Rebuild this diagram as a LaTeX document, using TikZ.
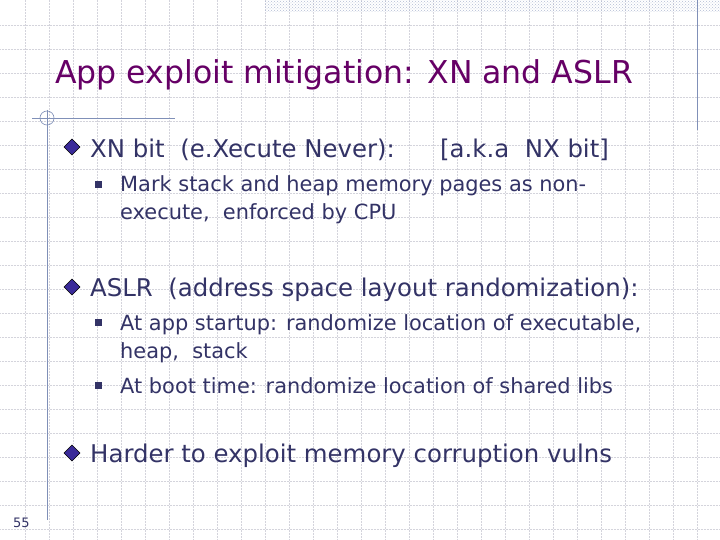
\documentclass[tikz,border=0pt]{standalone}
\usepackage{fontspec}
\setmainfont{DejaVu Sans}
\usetikzlibrary{patterns}
\definecolor{txt}{HTML}{333366}
\definecolor{ttl}{HTML}{660066}
\definecolor{gridc}{HTML}{D4D4DC}
\definecolor{rule}{HTML}{8090B8}
\definecolor{bul}{HTML}{3A2A99}
\tikzset{
 lvl1/.style={anchor=base west,inner sep=0,text=txt,font=\fontsize{24.4}{28}\selectfont},
 lvl2/.style={anchor=base west,inner sep=0,text=txt,font=\fontsize{20.9}{24}\selectfont},
 dia/.style={fill=bul,draw=black,line width=0.6pt},
 sq/.style={fill=txt,draw=none}
}
\begin{document}
\begin{tikzpicture}[x=1pt,y=-1pt]
\useasboundingbox (0,0) rectangle (720,540);
\fill[white] (0,0) rectangle (720,540);
\foreach \i in {1,...,30} {\draw[gridc,densely dotted,line width=0.5pt] (\i*24+1,0) -- (\i*24+1,540);}
\foreach \i in {1,...,22} {\draw[gridc,densely dotted,line width=0.5pt] (0,\i*24+1) -- (720,\i*24+1);}
\fill[pattern=crosshatch dots,pattern color=rule!60] (265,0) rectangle (720,12);
\draw[rule,line width=0.8pt] (697,0) -- (697,130);
\draw[rule,line width=0.8pt] (32,118) -- (175,118);
\draw[rule,line width=0.8pt] (47,110) -- (47,520);
\draw[rule,line width=0.6pt] (47,118) circle (7);
\node[anchor=base west,inner sep=0,text=ttl,font=\fontsize{31.5}{36}\selectfont] (title) at (55,84) {App exploit mitigation: XN and ASLR};
\foreach \n/\y in {d1/147,d2/287,d3/453}{\path[draw=white,line width=2pt] (72,\y) ++(-9,0) -- ++(9,-9) -- ++(9,9) -- ++(-9,9) -- cycle;
\path[dia] (72,\y) coordinate (\n) ++(-8,0) -- ++(8,-8) -- ++(8,8) -- ++(-8,8) -- cycle;}
\node[lvl1] (t1) at (90,158) {XN bit\ \ (e.Xecute Never):};
\node[lvl1] (t1b) at (440,158) {[a.k.a\ \ NX bit]};
\node[lvl2] (t2) at (120,192) {Mark stack and heap memory pages as non-};
\node[lvl2] (t3) at (120,220) {execute,\ \ enforced by CPU};
\node[lvl1] (t4) at (90,296) {ASLR\ \ (address space layout randomization):};
\node[lvl2] (t5) at (120,330) {At app startup: randomize location of executable,};
\node[lvl2] (t6) at (120,358) {heap,\ \ stack};
\node[lvl2] (t7) at (120,393) {At boot time: randomize location of shared libs};
\node[lvl1] (t8) at (90,462) {Harder to exploit memory corruption vulns};
\foreach \y in {185,323,386}{\fill[sq] (95,\y-4) rectangle (102,\y+3);}
\node[anchor=base west,inner sep=0,text=txt,font=\fontsize{13}{15}\selectfont] (pg) at (13,527) {55};
\end{tikzpicture}
\end{document}
